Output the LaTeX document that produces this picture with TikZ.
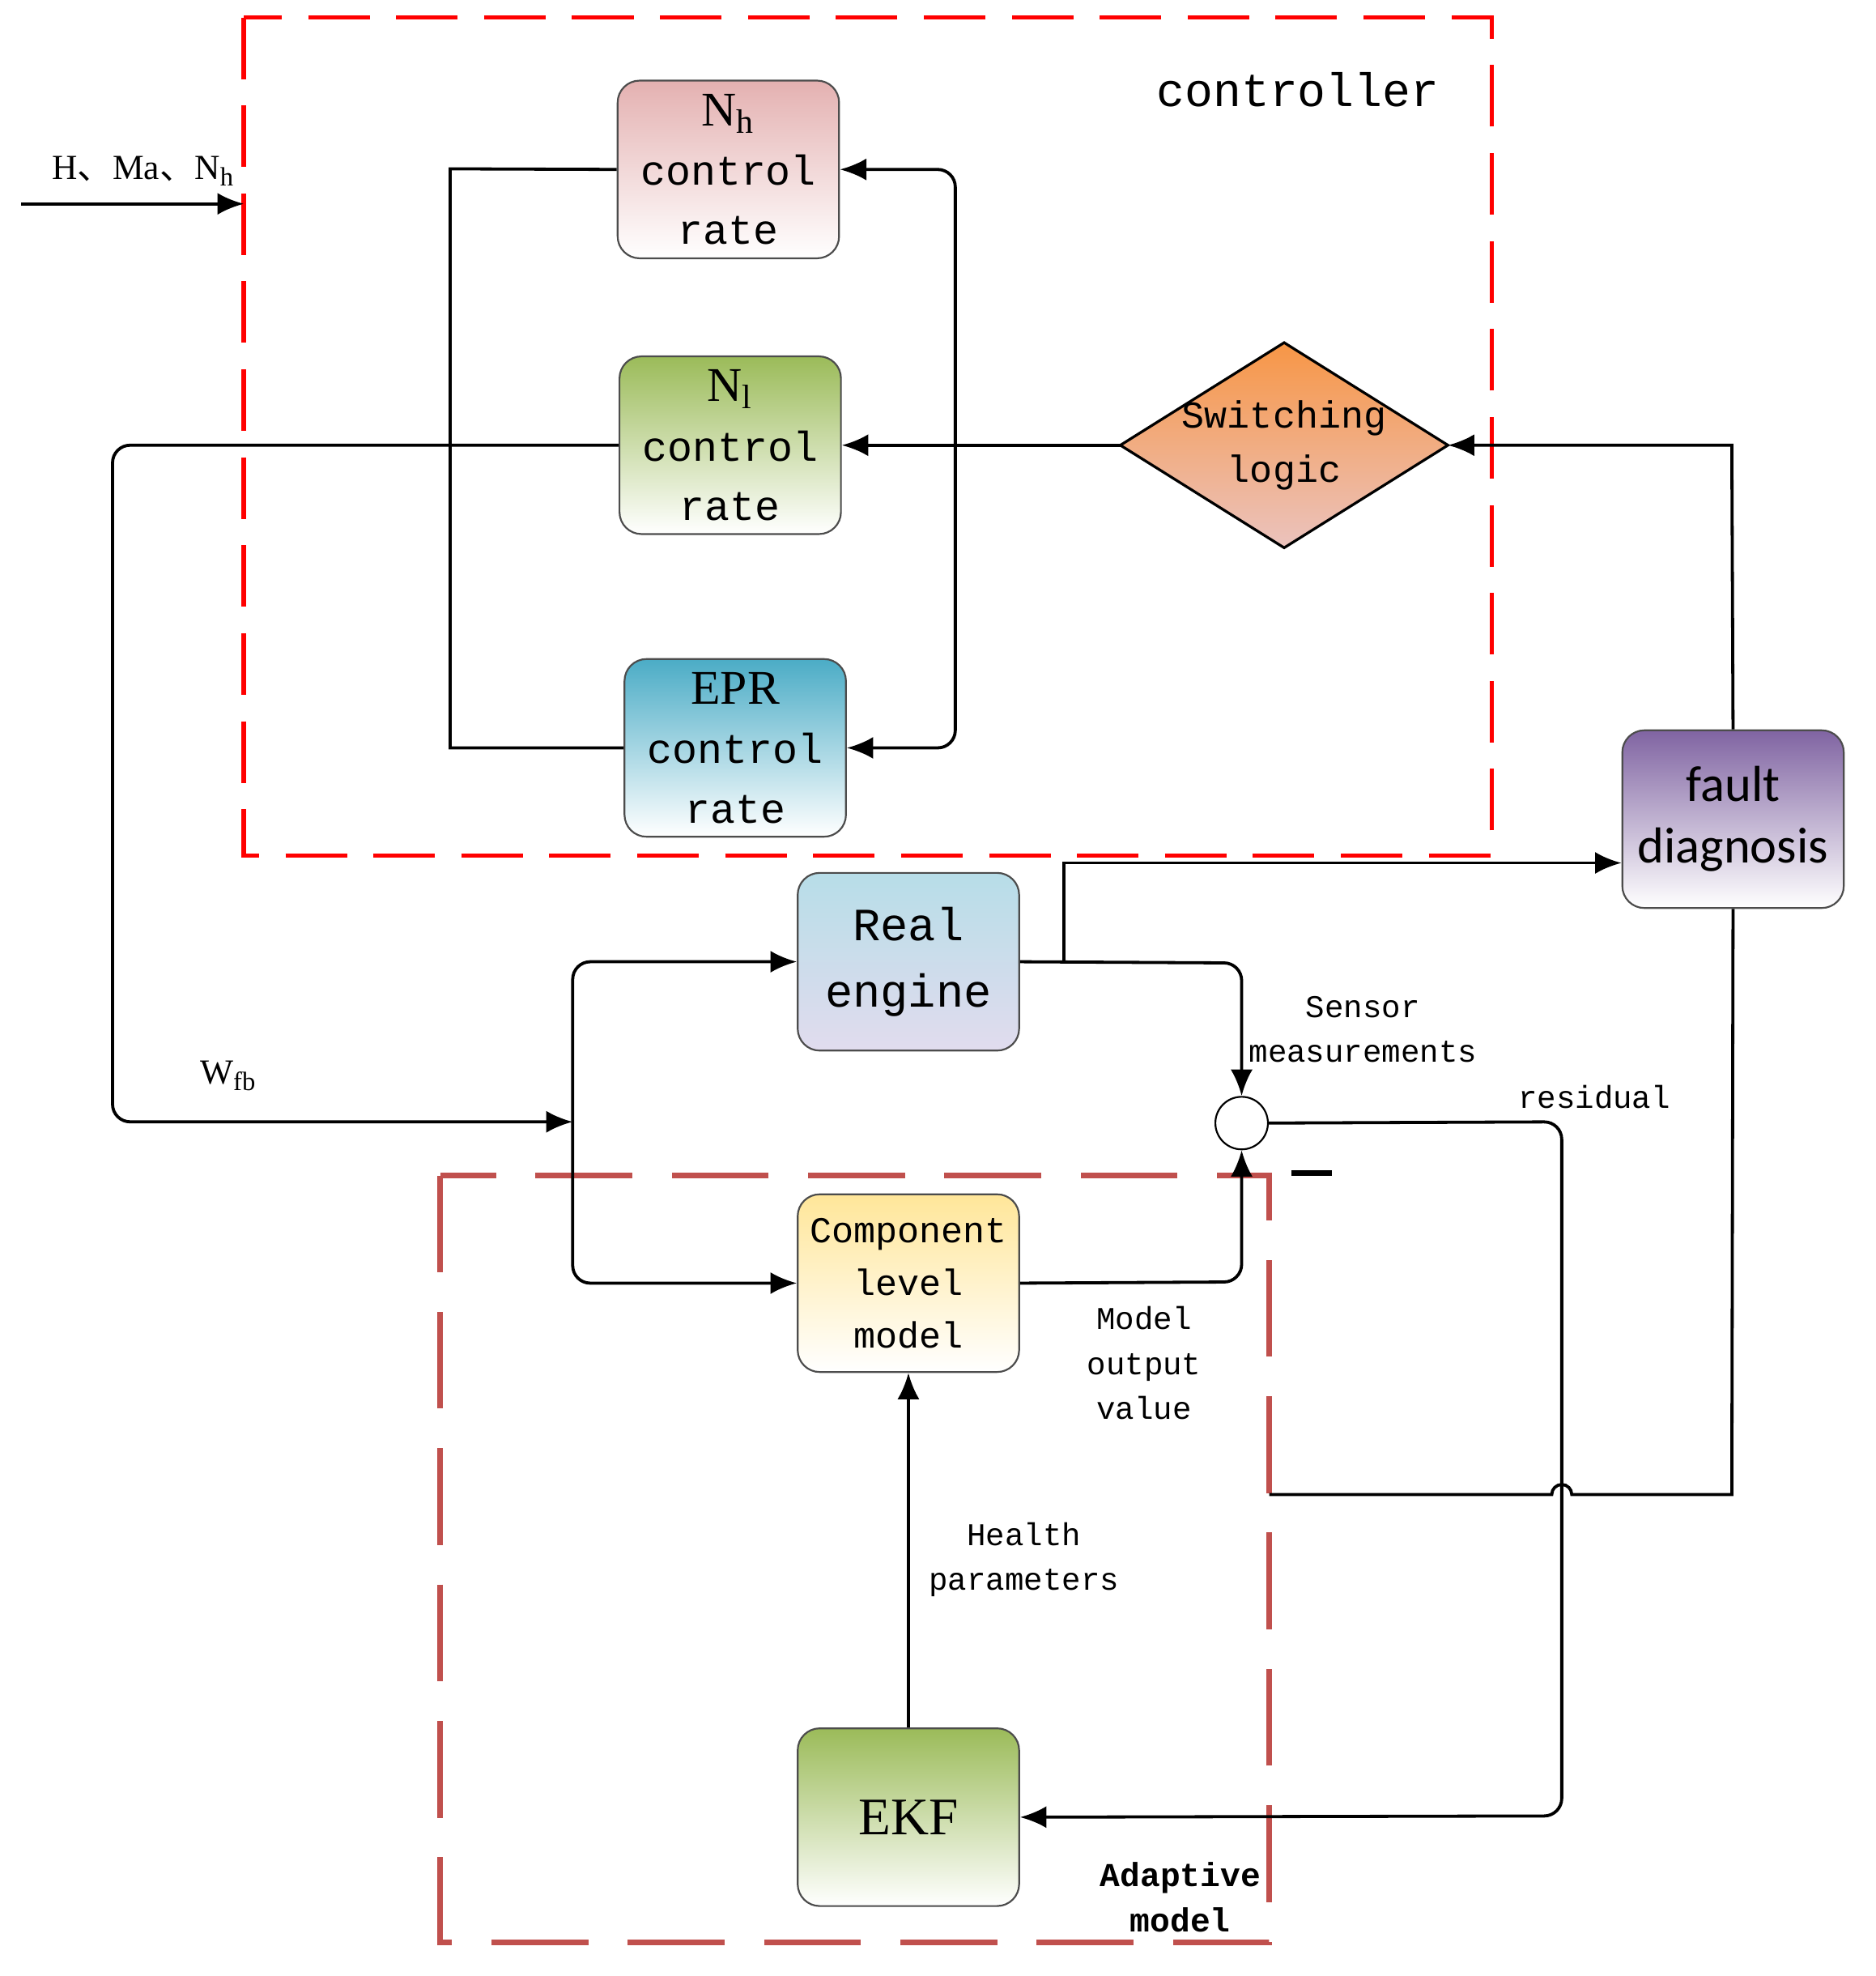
\documentclass[tikz,border=0pt]{standalone}
\usepackage{fontspec}
\setmainfont{Liberation Serif}
\newfontfamily\mono{Liberation Mono}
\newfontfamily\sans{Carlito}
\newfontfamily\cjk{Noto Sans CJK SC}
\usetikzlibrary{shapes.geometric,arrows.meta}
\begin{document}
\begin{tikzpicture}[x=0.01cm,y=-0.01cm,
  bx/.style={draw=black!70,rounded corners=5pt,minimum width=1.77cm,minimum height=1.42cm,inner sep=0pt,align=center,font=\mono\fontsize{9.5}{13.5}\selectfont},
  con/.style={line width=0.7pt,-{Latex[length=6pt,width=5pt]},rounded corners=4pt},
  ln/.style={line width=0.7pt,rounded corners=4pt},
  lab/.style={font=\mono\fontsize{7.2}{10.2}\selectfont,align=center}]
\useasboundingbox (0,0) rectangle (1500,1580);
% boxes
\draw[red,line width=1pt,dash pattern=on 14pt off 6pt] (195,14) rectangle (1193,684);
\draw[color={rgb,255:red,192;green,80;blue,77},line width=1.3pt,dash pattern=on 22pt off 9pt] (352,940) rectangle (1015,1553);
\node[font=\mono\fontsize{10.7}{13}\selectfont] at (1038,72) {controller};
\node[bx,top color={rgb,255:red,228;green,177;blue,177},bottom color=white] (nh) at (582.5,135.5) {{\rmfamily\fontsize{11}{13}\selectfont N\textsubscript{h}}\\control\\rate};
\node[bx,top color={rgb,255:red,155;green,187;blue,89},bottom color=white] (nl) at (584,356) {{\rmfamily\fontsize{11}{13}\selectfont N\textsubscript{l}}\\control\\rate};
\node[bx,top color={rgb,255:red,75;green,172;blue,198},bottom color=white] (epr) at (588,598) {{\rmfamily\fontsize{11}{13}\selectfont EPR}\\control\\rate};
\draw[top color={rgb,255:red,247;green,150;blue,70},bottom color={rgb,255:red,235;green,195;blue,190},draw=black,line width=0.6pt] (896,356) -- (1027,274) -- (1158,356) -- (1027,438) -- cycle;
\node[align=center,font=\mono\fontsize{8.6}{12.4}\selectfont] (sw) at (1027,356) {Switching\\logic};
\coordinate (swW) at (896,356); \coordinate (swE) at (1158,356);
\node[bx,top color={rgb,255:red,128;green,100;blue,162},bottom color=white,font=\sans\fontsize{11.5}{14}\selectfont] (fd) at (1386,655) {fault\\diagnosis};
\node[bx,top color={rgb,255:red,183;green,221;blue,232},middle color={rgb,255:red,183;green,221;blue,232},bottom color={rgb,255:red,225;green,220;blue,238},font=\mono\fontsize{10.5}{15}\selectfont] (re) at (726.5,769) {Real\\engine};
\node[bx,top color={rgb,255:red,255;green,230;blue,153},middle color={rgb,255:red,255;green,230;blue,153},bottom color=white,font=\mono\fontsize{8.3}{12}\selectfont] (cl) at (726.5,1026) {Component\\level\\model};
\node[bx,top color={rgb,255:red,155;green,187;blue,89},middle color={rgb,255:red,155;green,187;blue,89},bottom color=white,font=\rmfamily\fontsize{12}{15}\selectfont] (ekf) at (726.5,1453) {EKF};
\node[draw,circle,minimum size=0.42cm,inner sep=0pt] (sum) at (993,898) {};
% connectors
\coordinate (in) at (17,163);\coordinate (inend) at (195,163);
\draw[con] (in) -- (inend);
\node[font=\rmfamily\fontsize{8}{10}\selectfont] at (115,137) {H{\cjk 、}Ma{\cjk 、}N\textsubscript{h}};
\draw[ln,rounded corners=0pt] (nh.west) -- (360,135) -- (360,598) -- (epr.west);
\draw[con] (swW) -- (nl.east);
\draw[con] (764,356) |- (nh.east);
\draw[con] (764,356) |- (epr.east);
\coordinate (wfb) at (458,897);
\draw[con] (nl.west) -- (90,356) -- (90,897) -- (wfb);
\node[font=\rmfamily\fontsize{8}{10}\selectfont] at (183,860) {W\textsubscript{fb}};
\draw[con] (wfb) |- (re.west);
\draw[con] (wfb) |- (cl.west);
\draw[con] (re.east) -- (993,770) -- (sum.north);
\draw[con,rounded corners=0pt] (851,770) -- (851,690) -- (fd.west |- 0,690);
\draw[con] (cl.east) -- (993,1025) -- (sum.south);
\draw[con] (sum.east) -- (1249,897) -- (1249,1452) -- (ekf.east);
\draw[con] (ekf.north) -- (cl.south);
\draw[con,rounded corners=0pt] (fd.north) -- (1385,356) -- (swE);
\draw[ln,rounded corners=0pt] (fd.south) -- (1385,1195) -- (1257,1195) arc[start angle=0,end angle=-180,radius=8] -- (1015,1195);
% labels
\node[lab] at (1090,823) {Sensor\\measurements};
\node[lab] at (1275,877) {residual};
\draw[line width=1.2pt] (1033,938) -- (1065,938);
\node[lab] at (915,1090) {Model\\output\\value};
\node[lab] at (819,1247) {Health\\parameters};
\node[lab,font=\mono\bfseries\fontsize{7.6}{10.2}\selectfont] at (944,1517) {Adaptive\\model};
\end{tikzpicture}
\end{document}
